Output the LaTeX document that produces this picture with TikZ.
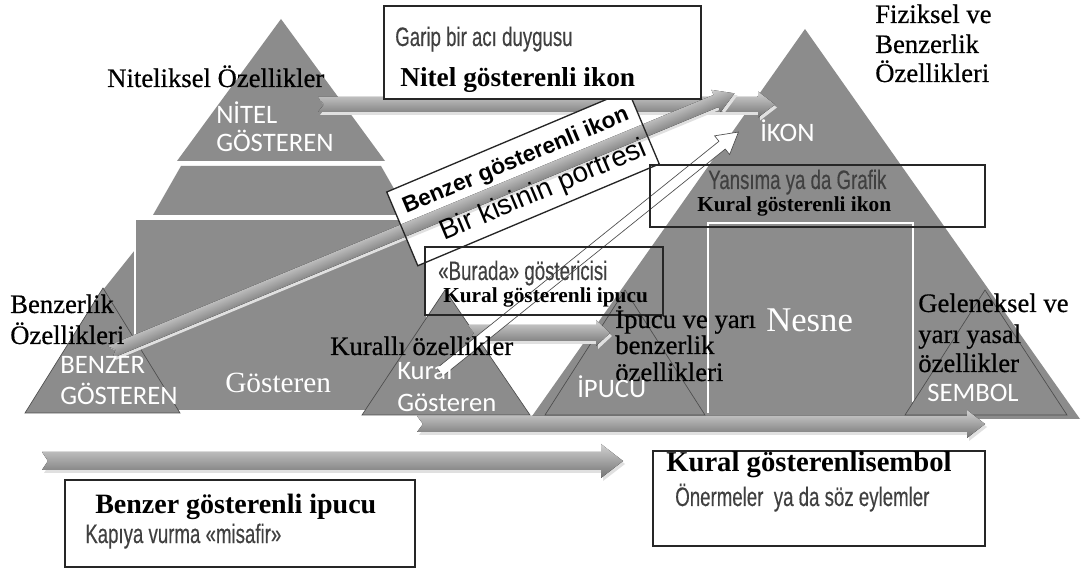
\documentclass[tikz,border=0pt]{standalone}
\usepackage{fontspec}
\setmainfont{Liberation Serif}
\newfontfamily\labelfont[FakeBold=0.5]{Liberation Serif}
\newfontfamily\capsfont{Carlito}
\newfontfamily\narrowfont[FakeStretch=0.7,FakeBold=0.3]{Liberation Sans}
\newfontfamily\arialfont{Liberation Sans}
\definecolor{pyrgray}{HTML}{8C8C8C}
\definecolor{edgegray}{HTML}{4D4D4D}
\definecolor{narrowgray}{HTML}{404040}

% notched block arrow with a soft shadow:
% tail x, tip x, centre y, half band, half head, head length
\newcommand{\bandarrow}[6]{%
  \fill[black!12] (#1+2,#3-#4+3) -- (#2-#6+2,#3-#4+3) -- (#2-#6+2,#3-#5+3) -- (#2+2,#3+3)
    -- (#2-#6+2,#3+#5+3) -- (#2-#6+2,#3+#4+3) -- (#1+2,#3+#4+3) -- (#1+8,#3+3) -- cycle;
  \fill[bandshade] (#1,#3-#4) -- (#2-#6,#3-#4) -- (#2-#6,#3-#5) -- (#2,#3)
    -- (#2-#6,#3+#5) -- (#2-#6,#3+#4) -- (#1,#3+#4) -- (#1+6,#3) -- cycle;}

\begin{document}
\begin{tikzpicture}[x=0.75pt,y=-0.75pt,
  pyr/.style={fill=pyrgray},
  smalltri/.style={fill=pyrgray, draw=edgegray, line width=0.5pt},
  bandshade/.style={top color=black!18, bottom color=black!55},
  boxline/.style={draw=black!85, line width=1pt},
  serif/.style={font=\labelfont\fontsize{20}{23}\selectfont, anchor=base west, inner sep=0pt},
  whiteserif/.style={font=\rmfamily, text=white, anchor=base west, inner sep=0pt},
  boldserif/.style={font=\fontsize{19}{22}\selectfont\bfseries, anchor=base west, inner sep=0pt},
  caps/.style={font=\capsfont\fontsize{20}{24}\selectfont, text=white, anchor=base west, inner sep=0pt},
  narrow/.style={font=\narrowfont\fontsize{20}{23}\selectfont, text=narrowgray, anchor=base west, inner sep=0pt}]

\fill[white] (0,0) rectangle (1083,577);
\useasboundingbox (0,0) rectangle (1083,577);

% ---- left pyramid: quality / likeness / rule signs
\fill[pyr] (281,19) -- (385,161) -- (177,161) -- cycle;
\fill[pyr] (181,166) -- (381,166) -- (409,215) -- (153,215) -- cycle;
\fill[pyr] (135,250) -- (135,411) -- (110,411) -- (103,290) -- cycle;
\filldraw[fill=pyrgray, draw=white, line width=1.5pt] (135,219) rectangle (427,411);

% ---- right pyramid: icon / index / symbol
\fill[pyr] (805,29) -- (1080,419) -- (530,419) -- cycle;
\draw[black!45, line width=0.6pt] (715,156) -- (895,156);
\draw[white, line width=2pt] (708,413) -- (708,223) -- (913,223) -- (913,402);

% ---- small sign triangles
\filldraw[smalltri] (103,288) -- (180,413) -- (25,413) -- cycle;
\filldraw[smalltri] (445,290) -- (530,415) -- (362,415) -- cycle;
\filldraw[smalltri] (625,290) -- (705,415) -- (545,415) -- cycle;
\filldraw[smalltri] (985,290) -- (1067,415) -- (905,415) -- cycle;

% ---- arrows
\bandarrow{318}{775}{104.5}{7.5}{13}{17}
\bandarrow{468}{610}{333}{8}{13}{14}
\bandarrow{417}{985}{424}{8}{14}{18}
\bandarrow{42}{623}{461}{9}{17}{22}

% tilted label box (background)
\begin{scope}[shift={(523,178)}, rotate=22.85]
  \fill[white] (-131,-40) rectangle (131,40);
\end{scope}

% likeness arrow towards the icon (canvas turned so the shading follows the band)
\begin{scope}[transform canvas={shift={(110,352)}, rotate=22.5}]
  \bandarrow{0}{676}{0}{6.5}{12}{20}
\end{scope}

% rule arrow towards the icon
\begin{scope}[shift={(440,372)}, rotate=38.8]
  \filldraw[fill=white, draw=edgegray, line width=0.5pt]
    (0,-5) -- (362,-5) -- (362,-12) -- (383,0) -- (362,12) -- (362,5) -- (0,5) -- cycle;
\end{scope}

% tilted label box (frame and text)
\begin{scope}[shift={(523,178)}, rotate=22.85, transform shape]
  \draw[boxline] (-131,-40) rectangle (131,40);
  \node[font=\arialfont\bfseries\fontsize{17}{20}\selectfont, inner sep=0pt] (benzerikon) at (0,-18) {Benzer gösterenli ikon};
  \node[font=\arialfont\fontsize{21}{24}\selectfont, inner sep=0pt] (portre) at (14,20) {Bir kisinin portresi};
\end{scope}

% ---- framed example boxes
\draw[boxline, fill=white] (384,6) rectangle (701,99);
\draw[boxline] (650,165) rectangle (985,227);
\draw[boxline] (425,247) rectangle (663,315);
\draw[boxline] (653,451) rectangle (985,546);
\draw[boxline] (65,480) rectangle (415,567);

% ---- texts
\node[narrow] (garip) at (395,46) {Garip bir acı duygusu};
\node[boldserif, font=\fontsize{20.5}{24}\selectfont\bfseries] (nitelikon) at (400,87) {Nitel gösterenli ikon};
\node[serif] (niteliksel) at (107,87) {Niteliksel Özellikler};
\node[caps] (nitel1) at (216,124) {NİTEL};
\node[caps] (nitel2) at (216,152) {GÖSTEREN};

\node[serif] (fiz1) at (875,23) {Fiziksel ve};
\node[serif] (fiz2) at (875,53) {Benzerlik};
\node[serif] (fiz3) at (875,82) {Özellikleri};
\node[caps] (ikon) at (760,142) {İKON};
\node[narrow] (yansima) at (708,189) {Yansıma ya da Grafik};
\node[boldserif, font=\fontsize{16}{19}\selectfont\bfseries] (kuralikon) at (697,212) {Kural gösterenli ikon};

\node[serif] (benz1) at (10,313) {Benzerlik};
\node[serif] (benz2) at (10,344) {Özellikleri};
\node[caps] (benzer1) at (60,374) {BENZER};
\node[caps] (benzer2) at (60,405) {GÖSTEREN};
\node[whiteserif, font=\fontsize{22}{26}\selectfont] (gosteren) at (225,393) {Gösteren};
\node[serif] (kuralli) at (330,355) {Kurallı özellikler};
\node[caps] (kural1) at (397,380) {Kural};
\node[caps] (kural2) at (397,412) {Gösteren};

\node[narrow] (burada) at (438,280) {«Burada» göstericisi};
\node[boldserif, font=\fontsize{16}{19}\selectfont\bfseries] (kuralipucu) at (443,303) {Kural gösterenli ipucu};
\node[serif] (ipucu1) at (615,328) {İpucu ve yarı};
\node[serif] (ipucu2) at (615,354) {benzerlik};
\node[serif] (ipucu3) at (615,381) {özellikleri};
\node[caps] (ipucu) at (577,398) {İPUCU};

\node[whiteserif, font=\fontsize{26}{30}\selectfont] (nesne) at (766,332) {Nesne};
\node[serif] (gel1) at (918,312) {Geleneksel ve};
\node[serif] (gel2) at (918,343) {yarı yasal};
\node[serif] (gel3) at (918,372) {özellikler};
\node[caps] (sembol) at (927,402) {SEMBOL};

\node[boldserif, font=\fontsize{21.5}{25}\selectfont\bfseries] (kuralsembol) at (666,472) {Kural gösterenlisembol};
\node[narrow] (onerme) at (675,506) {Önermeler~ ya da söz eylemler};
\node[boldserif, font=\fontsize{21}{25}\selectfont\bfseries] (benzeripucu) at (95,513) {Benzer gösterenli ipucu};
\node[narrow] (kapi) at (85,543) {Kapıya vurma «misafir»};

\end{tikzpicture}
\end{document}
